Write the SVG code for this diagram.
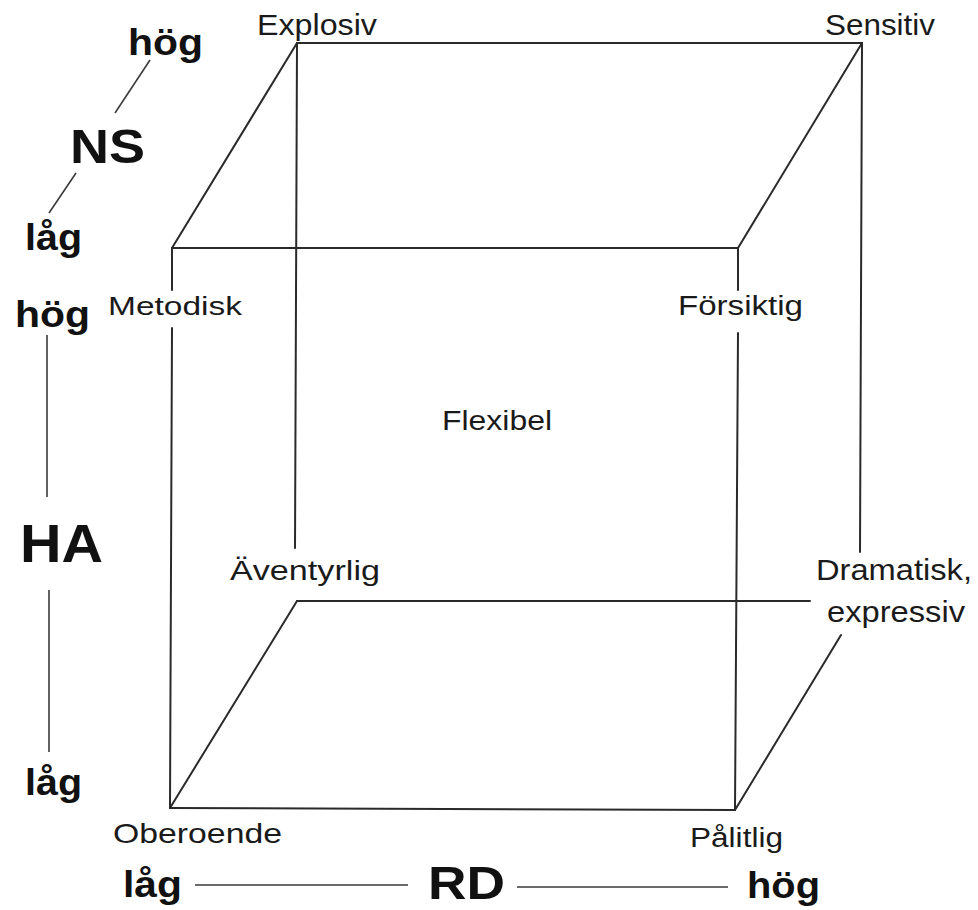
<svg xmlns="http://www.w3.org/2000/svg" width="978" height="910" viewBox="0 0 978 910">
<style>
.edge{stroke:#2a2a2a;stroke-width:2;fill:none;stroke-linecap:round}
.axis{stroke:#3a3a3a;stroke-width:1.6;fill:none}
.lbl{font-family:"Gill Sans","Liberation Sans","DejaVu Sans",sans-serif;fill:#1a1a1a}
.ax{font-family:"Gill Sans","Liberation Sans","DejaVu Sans",sans-serif;font-weight:bold;fill:#111}
</style>
<rect width="978" height="910" fill="#fff"/>
<g id="connectors">
  <g id="cube-edges">
    <line class="edge" x1="297" y1="43" x2="862" y2="43"/>
    <line class="edge" x1="172" y1="248" x2="738" y2="248"/>
    <line class="edge" x1="172" y1="248" x2="297" y2="43"/>
    <line class="edge" x1="738" y1="248" x2="862" y2="43"/>
    <line class="edge" x1="172" y1="248" x2="172" y2="290"/>
    <line class="edge" x1="172" y1="328" x2="170" y2="808"/>
    <line class="edge" x1="738" y1="248" x2="738" y2="290"/>
    <line class="edge" x1="738" y1="333" x2="735" y2="810"/>
    <line class="edge" x1="297" y1="43" x2="295" y2="548"/>
    <line class="edge" x1="862" y1="43" x2="860" y2="552"/>
    <line class="edge" x1="170" y1="808" x2="735" y2="810"/>
    <line class="edge" x1="297" y1="601" x2="810" y2="601"/>
    <line class="edge" x1="170" y1="808" x2="297" y2="601"/>
    <line class="edge" x1="735" y1="810" x2="841" y2="635"/>
  </g>
  <g id="axis-lines">
    <line class="axis" x1="150" y1="60" x2="115" y2="113"/>
    <line class="axis" x1="76" y1="173" x2="49" y2="213"/>
    <line class="axis" x1="47" y1="335" x2="47" y2="497"/>
    <line class="axis" x1="49" y1="590" x2="49" y2="752"/>
    <line class="axis" x1="195" y1="885" x2="408" y2="885"/>
    <line class="axis" x1="517" y1="887" x2="728" y2="887"/>
  </g>
</g>
<g id="explosiv"><text class="lbl" x="257" y="35" font-size="29" textLength="120" lengthAdjust="spacingAndGlyphs">Explosiv</text></g>
<g id="sensitiv"><text class="lbl" x="825" y="35" font-size="29" textLength="110" lengthAdjust="spacingAndGlyphs">Sensitiv</text></g>
<g id="metodisk"><text class="lbl" x="108" y="315" font-size="26" textLength="134" lengthAdjust="spacingAndGlyphs">Metodisk</text></g>
<g id="forsiktig"><text class="lbl" x="678" y="315" font-size="27" textLength="125" lengthAdjust="spacingAndGlyphs">Försiktig</text></g>
<g id="flexibel"><text class="lbl" x="442" y="430" font-size="28" textLength="110" lengthAdjust="spacingAndGlyphs">Flexibel</text></g>
<g id="aventyrlig"><text class="lbl" x="230" y="580" font-size="28" textLength="150" lengthAdjust="spacingAndGlyphs">Äventyrlig</text></g>
<g id="dramatisk"><text class="lbl" x="816" y="580" font-size="29" textLength="156" lengthAdjust="spacingAndGlyphs">Dramatisk,</text><text class="lbl" x="827" y="622" font-size="29" textLength="138" lengthAdjust="spacingAndGlyphs">expressiv</text></g>
<g id="oberoende"><text class="lbl" x="113" y="843" font-size="28" textLength="169" lengthAdjust="spacingAndGlyphs">Oberoende</text></g>
<g id="palitlig"><text class="lbl" x="690" y="847" font-size="27" textLength="93" lengthAdjust="spacingAndGlyphs">Pålitlig</text></g>
<g id="ns-axis">
  <text class="ax" x="128" y="55" font-size="36" textLength="75" lengthAdjust="spacingAndGlyphs">hög</text>
  <text class="ax" x="70" y="163" font-size="48" textLength="75" lengthAdjust="spacingAndGlyphs">NS</text>
  <text class="ax" x="25" y="250" font-size="36" textLength="57" lengthAdjust="spacingAndGlyphs">låg</text>
</g>
<g id="ha-axis">
  <text class="ax" x="15" y="327" font-size="36" textLength="75" lengthAdjust="spacingAndGlyphs">hög</text>
  <text class="ax" x="20" y="562" font-size="54" textLength="83" lengthAdjust="spacingAndGlyphs">HA</text>
  <text class="ax" x="25" y="795" font-size="36" textLength="57" lengthAdjust="spacingAndGlyphs">låg</text>
</g>
<g id="rd-axis">
  <text class="ax" x="123" y="897" font-size="36" textLength="59" lengthAdjust="spacingAndGlyphs">låg</text>
  <text class="ax" x="428" y="899" font-size="46" textLength="77" lengthAdjust="spacingAndGlyphs">RD</text>
  <text class="ax" x="747" y="898" font-size="36" textLength="73" lengthAdjust="spacingAndGlyphs">hög</text>
</g>
</svg>
